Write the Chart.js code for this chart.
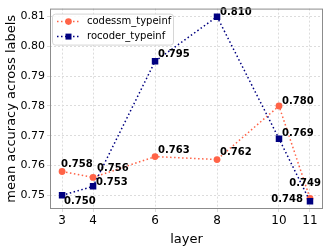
<!DOCTYPE html>
<html>
<head>
<meta charset="utf-8">
<script src="https://cdn.jsdelivr.net/npm/chart.js@4"></script>
<style>
  html, body { margin: 0; padding: 0; background: #fff; }
  #wrap { width: 329px; height: 247px; }
</style>
</head>
<body>
<div id="wrap"><canvas id="my-chart" width="329" height="247"></canvas></div>
<script>
const layers = [3, 4, 6, 8, 10, 11];
const codessmTypeinf = [0.758, 0.756, 0.763, 0.762, 0.780, 0.749];
const rocoderTypeinf = [0.750, 0.753, 0.795, 0.810, 0.769, 0.748];
const xTicks = [3, 4, 6, 8, 10, 11];
const yTicks = [0.75, 0.76, 0.77, 0.78, 0.79, 0.80, 0.81];

const FONT = "'DejaVu Sans', sans-serif";

// where each value label sits relative to its point: [dx, dy, align]
const labelPlacement = [
  [[-1, -7, "left"], [4, -9, "left"], [3, -6, "left"], [3, -7, "left"], [3, -5, "left"], [11, -15, "right"]],
  [[2, 6, "left"], [3, -4, "left"], [3, -7, "left"], [3, -4, "left"], [3, -5, "left"], [-7, -2, "right"]],
];

function toPoints(ys) {
  return layers.map((x, i) => ({ x: x, y: ys[i] }));
}

const framePlugin = {
  id: "frame",
  afterDraw(chart) {
    const { ctx, chartArea: a } = chart;
    ctx.save();
    ctx.strokeStyle = "#8c8c8c";
    ctx.lineWidth = 1;
    ctx.strokeRect(a.left + 0.5, a.top + 0.5, a.right - a.left - 1, a.bottom - a.top - 1);
    ctx.restore();
  },
};

const valueLabels = {
  id: "valueLabels",
  afterDatasetsDraw(chart) {
    const ctx = chart.ctx;
    ctx.save();
    ctx.font = "bold 10px " + FONT;
    ctx.fillStyle = "#000";
    ctx.textBaseline = "middle";
    chart.data.datasets.forEach((ds, d) => {
      const meta = chart.getDatasetMeta(d);
      meta.data.forEach((pt, i) => {
        const [dx, dy, align] = labelPlacement[d][i];
        ctx.textAlign = align;
        ctx.fillText(ds.data[i].y.toFixed(3), pt.x + dx, pt.y + dy);
      });
    });
    ctx.restore();
  },
};

const boxLegend = {
  id: "boxLegend",
  afterDraw(chart) {
    const ctx = chart.ctx;
    const a = chart.chartArea;
    const x0 = a.left + 2, y0 = a.top + 5, w = 121, h = 31;
    ctx.save();
    ctx.fillStyle = "rgba(255,255,255,0.85)";
    ctx.strokeStyle = "#d6d6d6";
    ctx.lineWidth = 1;
    ctx.beginPath();
    ctx.roundRect(x0 + 0.5, y0 + 0.5, w, h, 3);
    ctx.fill();
    ctx.stroke();
    chart.data.datasets.forEach((ds, d) => {
      const cy = y0 + 8 + d * 15;
      ctx.strokeStyle = ds.borderColor;
      ctx.lineWidth = 1.5;
      ctx.setLineDash([1.5, 2.5]);
      ctx.beginPath();
      ctx.moveTo(x0 + 5, cy);
      ctx.lineTo(x0 + 28, cy);
      ctx.stroke();
      ctx.setLineDash([]);
      ctx.fillStyle = ds.pointBackgroundColor;
      ctx.beginPath();
      if (ds.pointStyle === "rect") {
        ctx.rect(x0 + 13.5, cy - 3, 6, 6);
      } else {
        ctx.arc(x0 + 16.5, cy, 3.3, 0, Math.PI * 2);
      }
      ctx.fill();
      ctx.fillStyle = "#000";
      ctx.font = "10px " + FONT;
      ctx.textAlign = "left";
      ctx.textBaseline = "middle";
      ctx.fillText(ds.label, x0 + 35, cy);
    });
    ctx.restore();
  },
};

const ctx = document.getElementById("my-chart");

new Chart(ctx, {
  type: "line",
  data: {
    datasets: [
      {
        label: "codessm_typeinf",
        data: toPoints(codessmTypeinf),
        borderColor: "#ff6347",
        backgroundColor: "#ff6347",
        pointBackgroundColor: "#ff6347",
        pointBorderWidth: 0,
        pointStyle: "circle",
        pointRadius: 3.4,
        borderWidth: 1.5,
        borderDash: [1.5, 2.5],
        tension: 0,
        order: 1,
      },
      {
        label: "rocoder_typeinf",
        data: toPoints(rocoderTypeinf),
        borderColor: "#000080",
        backgroundColor: "#000080",
        pointBackgroundColor: "#000080",
        pointBorderWidth: 0,
        pointStyle: "rect",
        pointRadius: 4.6,
        borderWidth: 1.5,
        borderDash: [1.5, 2.5],
        tension: 0,
        order: 0,
      },
    ],
  },
  options: {
    responsive: false,
    animation: false,
    layout: { padding: { left: 0, top: 6, right: 6, bottom: 0 } },
    plugins: {
      legend: { display: false },
      tooltip: { enabled: false },
    },
    scales: {
      x: {
        type: "linear",
        min: 2.61,
        max: 11.42,
        afterBuildTicks: (scale) => {
          scale.ticks = xTicks.map((v) => ({ value: v }));
        },
        afterFit: (scale) => {
          scale.height = 38;
        },
        grid: { color: "#dcdcdc", drawTicks: true, tickLength: 3 },
        border: { display: false, dash: [2, 2] },
        ticks: {
          color: "#000",
          font: { family: FONT, size: 12 },
          padding: 2,
          maxRotation: 0,
          autoSkip: false,
        },
        title: {
          display: true,
          text: "layer",
          color: "#000",
          font: { family: FONT, size: 13 },
          padding: { top: 0, bottom: 0 },
        },
      },
      y: {
        min: 0.7454,
        max: 0.8127,
        afterBuildTicks: (scale) => {
          scale.ticks = yTicks.map((v) => ({ value: v }));
        },
        afterFit: (scale) => {
          scale.width = 50;
        },
        grid: { color: "#dcdcdc", drawTicks: true, tickLength: 3 },
        border: { display: false, dash: [2, 2] },
        ticks: {
          color: "#000",
          font: { family: FONT, size: 11 },
          padding: 2,
          callback: (v) => v.toFixed(2),
        },
        title: {
          display: true,
          text: "mean accuracy across labels",
          color: "#000",
          font: { family: FONT, size: 13 },
          padding: { top: 4, bottom: 0 },
        },
      },
    },
  },
  plugins: [framePlugin, valueLabels, boxLegend],
});
</script>
</body>
</html>
